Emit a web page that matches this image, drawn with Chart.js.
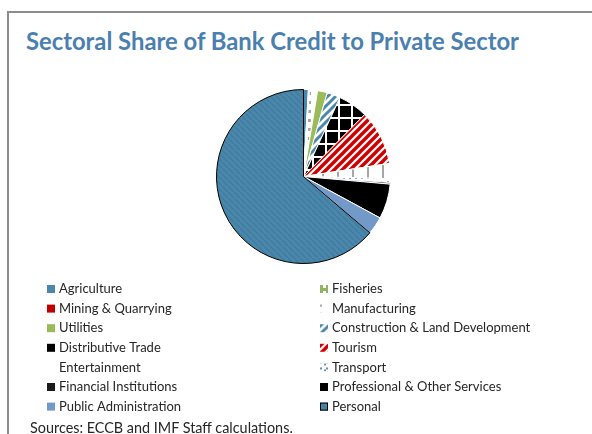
<!DOCTYPE html>
<html>
<head>
<meta charset="utf-8">
<script src="https://cdn.jsdelivr.net/npm/chart.js@4.4.1/dist/chart.umd.min.js"></script>
<style>
  html, body { margin: 0; padding: 0; background: #fff; }
  #wrap { position: relative; width: 592px; height: 434px; overflow: hidden; }
  #frame { position: absolute; left: 7px; top: 11px; width: 600px; height: 440px;
           border-left: 2px solid #8c8c8c; border-top: 2px solid #8c8c8c; }
  #title { position: absolute; left: 26px; top: 27px; margin: 0;
           font: bold 23.8px Lato, "Open Sans", sans-serif; color: #4a7fb0; white-space: nowrap; }
  #source { position: absolute; left: 30px; top: 419px; margin: 0;
            font: 14.4px Lato, "Open Sans", sans-serif; color: #262626; white-space: nowrap; }
  canvas { position: absolute; left: 0; top: 0; }
</style>
</head>
<body>
<div id="wrap">
  <div id="frame"></div>
  <h1 id="title">Sectoral Share of Bank Credit to Private Sector</h1>
  <canvas id="sectorChart" width="592" height="434"></canvas>
  <p id="source">Sources: ECCB and IMF Staff calculations.</p>
</div>
<script>
// Sectors, in legend order (clockwise from 12 o'clock in the pie)
const sectors = [
    'Agriculture', 'Fisheries', 'Mining & Quarrying', 'Manufacturing',
    'Utilities', 'Construction & Land Development', 'Distributive Trade', 'Tourism',
    'Entertainment', 'Transport', 'Financial Institutions', 'Professional & Other Services',
    'Public Administration', 'Personal'
];
// Share of bank credit, percent
const shares = [0.9, 0.1, 0.1, 1.5, 1.8, 2.5, 5.5, 10.2, 2.8, 0.7, 0.3, 6.5, 3.3, 63.8];

// small helper: build a repeating canvas pattern
function makePattern(size, draw) {
    const c = document.createElement('canvas');
    c.width = size; c.height = size;
    const g = c.getContext('2d');
    draw(g, size);
    return c.getContext('2d').createPattern(c, 'repeat');
}

const solid = col => makePattern(4, (g, s) => { g.fillStyle = col; g.fillRect(0, 0, s, s); });

// diagonal stripes rising to the right
function stripes(bg, fg, size, width) {
    return makePattern(size, (g, s) => {
        g.fillStyle = bg; g.fillRect(0, 0, s, s);
        g.strokeStyle = fg; g.lineWidth = width;
        [[0, s, s, 0], [-2, 2, 2, -2], [s - 2, s + 2, s + 2, s - 2]].forEach(l => {
            g.beginPath(); g.moveTo(l[0], l[1]); g.lineTo(l[2], l[3]); g.stroke();
        });
    });
}

const fills = [
    solid('#4a87aa'),                                   // Agriculture
    makePattern(6, (g, s) => {                          // Fisheries
        g.fillStyle = '#fff'; g.fillRect(0, 0, s, s);
        g.fillStyle = '#8fb463'; g.fillRect(0, 0, 6, 3); g.fillRect(3, 3, 3, 3);
    }),
    solid('#c00000'),                                   // Mining
    makePattern(9, (g, s) => {                          // Manufacturing
        g.fillStyle = '#fff'; g.fillRect(0, 0, s, s);
        g.fillStyle = '#a6a6a6'; g.fillRect(2, 2, 3, 3);
    }),
    solid('#9bbb59'),                                   // Utilities
    stripes('#fff', '#4a87aa', 8, 3),                   // Construction
    makePattern(13, (g, s) => {                         // Distributive Trade
        g.fillStyle = '#000'; g.fillRect(0, 0, s, s);
        g.fillStyle = '#fff'; g.fillRect(0, 0, s, 2); g.fillRect(0, 0, 2, s);
    }),
    stripes('#fff', '#d00000', 8, 3.4),                 // Tourism
    makePattern(15, (g, s) => {                         // Entertainment
        g.fillStyle = '#fff'; g.fillRect(0, 0, s, s);
        g.fillStyle = '#a6a6a6'; g.fillRect(7, 0, 2, s);
    }),
    makePattern(6, (g, s) => {                          // Transport
        g.fillStyle = '#fff'; g.fillRect(0, 0, s, s);
        g.fillStyle = '#5b8fc0'; g.fillRect(1, 3, 2, 2); g.fillRect(3, 1, 2, 2);
    }),
    solid('#1a1a1a'),                                   // Financial Institutions
    solid('#000000'),                                   // Professional
    solid('#7399c9'),                                   // Public Administration
    makePattern(6, (g, s) => {                          // Personal
        g.fillStyle = '#4a87aa'; g.fillRect(0, 0, s, s);
        g.strokeStyle = '#3f7c9f'; g.lineWidth = 1.5;
        g.beginPath(); g.moveTo(0, 0); g.lineTo(s, s); g.stroke();
    })
];
const edges = shares.map((v, i) => i === shares.length - 1 ? '#000' : '#fff');

// two-column legend drawn under the pie
const sectorLegend = {
    id: 'sectorLegend',
    afterDraw(chart) {
        const ctx = chart.ctx;
        ctx.save();
        ctx.font = '13px Lato, "Open Sans", sans-serif';
        ctx.textBaseline = 'middle';
        sectors.forEach((name, i) => {
            const col = i % 2, row = Math.floor(i / 2);
            const x = col === 0 ? 47 : 320;
            const y = 289 + row * 19.6;
            if (name !== 'Entertainment') {
                // shift the pattern origin so the swatch shows the body of the fill
                ctx.save();
                ctx.translate(x - 3, y - 7);
                ctx.fillStyle = fills[i];
                ctx.fillRect(3, 3, 8, 8);
                if (name === 'Personal') {
                    ctx.strokeStyle = '#000'; ctx.lineWidth = 1;
                    ctx.strokeRect(3.5, 3.5, 7, 7);
                }
                ctx.restore();
            }
            ctx.fillStyle = '#262626';
            ctx.fillText(name, x + 12, y);
        });
        ctx.restore();
    }
};

new Chart(document.getElementById('sectorChart'), {
    type: 'pie',
    data: {
        labels: sectors,
        datasets: [{
            data: shares,
            backgroundColor: fills,
            borderColor: edges,
            borderWidth: 1
        }]
    },
    options: {
        responsive: false,
        animation: false,
        layout: { padding: { top: 89, bottom: 170, left: 216, right: 201 } },
        plugins: {
            legend: { display: false },
            title: { display: false },
            tooltip: { enabled: false }
        }
    },
    plugins: [sectorLegend]
});
</script>
</body>
</html>
